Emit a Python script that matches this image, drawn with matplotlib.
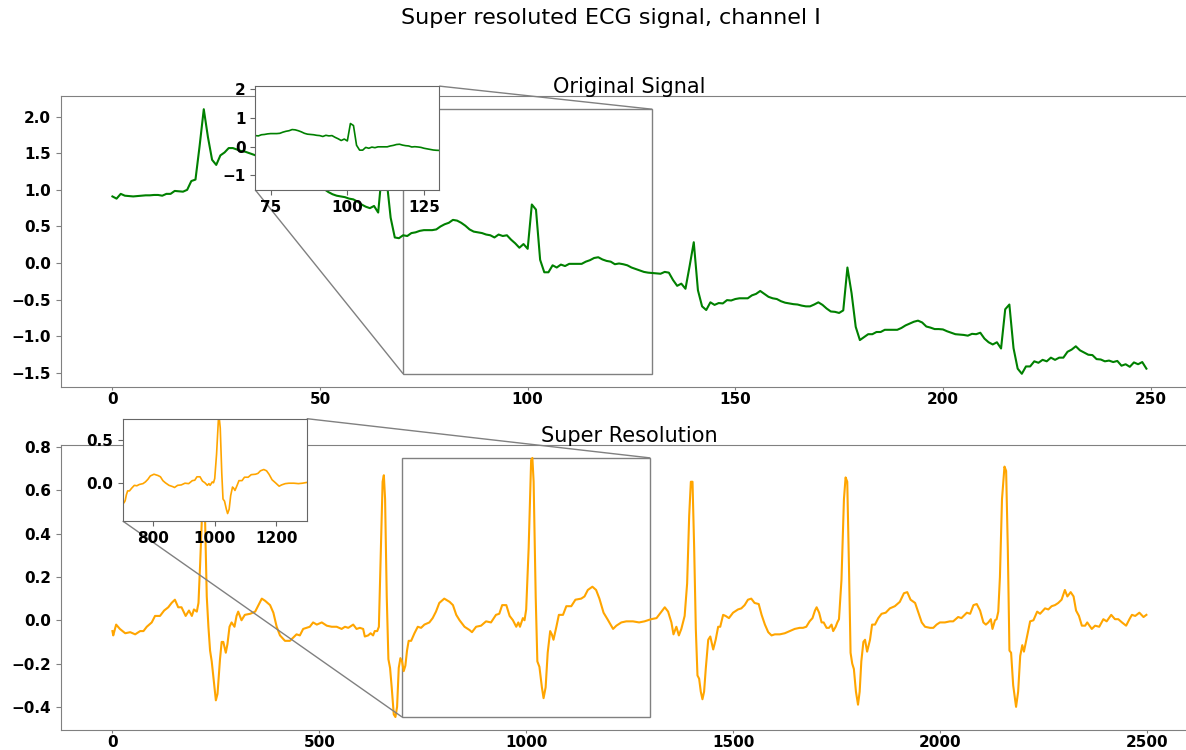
import matplotlib.pyplot as plt
from mpl_toolkits.axes_grid1.inset_locator import mark_inset

# Original ECG (250 samples)
orig = [
    0.91, 0.88, 0.945, 0.92, 0.915, 0.91, 0.915, 0.92, 0.925, 0.925,
    0.93, 0.93, 0.92, 0.945, 0.945, 0.985, 0.98, 0.975, 1.0, 1.12,
    1.14, 1.6, 2.1, 1.72, 1.41, 1.34, 1.47, 1.51, 1.57, 1.57,
    1.55, 1.53, 1.52, 1.50, 1.48, 1.46, 1.45, 1.43, 1.41, 1.38,
    1.36, 1.33, 1.30, 1.27, 1.25, 1.22, 1.18, 1.15, 1.12, 1.08,
    1.05, 1.01, 0.97, 0.94, 0.92, 0.91, 0.90, 0.88, 0.87, 0.84,
    0.80, 0.77, 0.75, 0.78, 0.69, 1.30, 1.15, 0.62, 0.35, 0.34,
    0.38, 0.37, 0.41, 0.42, 0.44, 0.45, 0.45, 0.45, 0.46, 0.50,
    0.53, 0.55, 0.59, 0.58, 0.55, 0.51, 0.46, 0.43, 0.42, 0.41,
    0.39, 0.38, 0.35, 0.39, 0.37, 0.38, 0.32, 0.27, 0.21, 0.26,
    0.195, 0.80, 0.73, 0.045, -0.125, -0.125, -0.03, -0.06, -0.02, -0.04,
    -0.01, -0.01, -0.01, -0.01, 0.02, 0.04, 0.07, 0.08, 0.05, 0.03,
    0.02, -0.015, -0.005, -0.015, -0.03, -0.06, -0.08, -0.10, -0.12, -0.13,
    -0.135, -0.14, -0.145, -0.12, -0.13, -0.23, -0.31, -0.28, -0.35, -0.04,
    0.285, -0.37, -0.59, -0.64, -0.535, -0.57, -0.545, -0.55, -0.505, -0.51,
    -0.49, -0.48, -0.48, -0.48, -0.44, -0.42, -0.38, -0.42, -0.46, -0.48,
    -0.49, -0.52, -0.54, -0.55, -0.56, -0.565, -0.58, -0.59, -0.59, -0.565,
    -0.535, -0.57, -0.62, -0.66, -0.665, -0.68, -0.645, -0.06, -0.41, -0.87,
    -1.05, -1.01, -0.97, -0.97, -0.94, -0.94, -0.91, -0.91, -0.91, -0.91,
    -0.885, -0.85, -0.825, -0.80, -0.785, -0.81, -0.865, -0.88, -0.90, -0.90,
    -0.905, -0.93, -0.95, -0.97, -0.975, -0.98, -0.99, -0.965, -0.97, -0.95,
    -1.03, -1.08, -1.11, -1.08, -1.165, -0.63, -0.565, -1.16, -1.44, -1.51,
    -1.41, -1.41, -1.34, -1.36, -1.32, -1.34, -1.29, -1.32, -1.29, -1.29,
    -1.21, -1.18, -1.135, -1.19, -1.22, -1.25, -1.255, -1.31, -1.315, -1.34,
    -1.33, -1.35, -1.335, -1.40, -1.38, -1.415, -1.355, -1.38, -1.35, -1.44,
]

# Super resolution output (2500 samples), read at the sample positions below
sr_x = [
    0, 2, 9, 18, 31, 43, 55, 67, 75, 83, 95, 103, 115, 125, 135, 143, 151, 159,
    167, 177, 185, 192, 197, 204, 208, 212, 216, 220, 224, 228, 232, 236, 240,
    246, 250, 254, 260, 264, 268, 274, 278, 283, 288, 295, 300, 304, 312, 320,
    333, 345, 353, 361, 369, 381, 389, 397, 405, 417, 429, 437, 445, 453, 461,
    469, 477, 485, 494, 506, 518, 530, 542, 554, 562, 570, 582, 590, 598, 606,
    610, 618, 624, 630, 634, 640, 644, 648, 653, 656, 659, 663, 667, 671, 675,
    680, 684, 688, 692, 696, 700, 704, 708, 712, 716, 722, 730, 738, 746, 754,
    766, 774, 782, 790, 802, 815, 823, 831, 839, 851, 863, 869, 879, 891, 903,
    915, 927, 935, 942, 952, 960, 968, 976, 981, 985, 992, 996, 1000, 1006,
    1012, 1015, 1018, 1023, 1027, 1032, 1038, 1042, 1047, 1052, 1058, 1062,
    1066, 1073, 1079, 1089, 1097, 1109, 1119, 1133, 1141, 1149, 1160, 1169,
    1177, 1187, 1198, 1210, 1218, 1230, 1242, 1258, 1273, 1286, 1302, 1315,
    1327, 1335, 1343, 1351, 1356, 1363, 1369, 1375, 1379, 1383, 1389, 1394,
    1398, 1402, 1406, 1410, 1414, 1418, 1422, 1426, 1430, 1434, 1440, 1445,
    1452, 1458, 1464, 1469, 1476, 1482, 1490, 1500, 1512, 1520, 1528, 1536,
    1544, 1552, 1562, 1569, 1577, 1585, 1593, 1601, 1613, 1625, 1637, 1649,
    1661, 1669, 1677, 1685, 1692, 1698, 1702, 1708, 1714, 1719, 1726, 1732,
    1738, 1742, 1748, 1752, 1756, 1762, 1768, 1772, 1776, 1780, 1784, 1788,
    1792, 1797, 1802, 1806, 1810, 1815, 1819, 1824, 1831, 1836, 1843, 1851,
    1859, 1869, 1879, 1891, 1903, 1913, 1921, 1929, 1940, 1948, 1956, 1964,
    1976, 1984, 1992, 2000, 2012, 2024, 2032, 2044, 2052, 2065, 2073, 2081,
    2089, 2097, 2105, 2111, 2117, 2123, 2127, 2133, 2137, 2141, 2145, 2150,
    2156, 2160, 2164, 2168, 2172, 2177, 2184, 2189, 2194, 2199, 2203, 2210,
    2218, 2226, 2235, 2242, 2254, 2262, 2270, 2278, 2286, 2294, 2302, 2308,
    2316, 2323, 2329, 2336, 2343, 2351, 2356, 2367, 2375, 2385, 2395, 2403,
    2414, 2423, 2431, 2440, 2450, 2458, 2464, 2472, 2482, 2492, 2499,
]
sr_y = [
    -0.05, -0.07, -0.02, -0.04, -0.06, -0.055, -0.065, -0.05, -0.05, -0.03, -0.01, 0.02, 0.02, 0.045, 0.06, 0.08, 0.095, 0.06,
    0.06, 0.02, 0.045, 0.02, 0.05, 0.04, 0.08, 0.26, 0.46, 0.70, 0.46, 0.11, -0.03, -0.14, -0.19,
    -0.30, -0.37, -0.34, -0.18, -0.10, -0.10, -0.15, -0.11, -0.03, -0.01, -0.03, 0.02, 0.04, 0.0, 0.025,
    0.03, 0.04, 0.07, 0.10, 0.09, 0.07, 0.035, -0.03, -0.07, -0.095, -0.095, -0.08, -0.065, -0.07, -0.04,
    -0.035, -0.03, -0.01, -0.02, -0.01, -0.025, -0.03, -0.03, -0.04, -0.03, -0.035, -0.02, -0.04, -0.035, -0.04,
    -0.075, -0.07, -0.06, -0.07, -0.05, -0.05, -0.03, 0.26, 0.64, 0.67, 0.56, 0.11, -0.18, -0.22, -0.31,
    -0.435, -0.447, -0.40, -0.22, -0.175, -0.19, -0.235, -0.21, -0.14, -0.095, -0.095, -0.06, -0.03, -0.035, -0.02,
    -0.01, 0.01, 0.04, 0.08, 0.10, 0.085, 0.07, 0.025, 0.0, -0.03, -0.045, -0.055, -0.03, -0.025, -0.005,
    -0.01, 0.025, 0.03, 0.07, 0.07, 0.02, 0.0, -0.03, -0.01, -0.03, 0.01, 0.0, 0.05, 0.335,
    0.74, 0.75, 0.64, 0.11, -0.19, -0.215, -0.31, -0.36, -0.31, -0.15, -0.05, -0.065,
    -0.09, -0.03, 0.025, 0.025, 0.065, 0.065, 0.095, 0.10, 0.11, 0.14, 0.155, 0.14,
    0.10, 0.035, 0.0, -0.04, -0.025, -0.01, -0.005, -0.005, -0.01, -0.005, 0.005, 0.01,
    0.04, 0.06, 0.04, -0.01, -0.065, -0.03, -0.07, -0.04, -0.01, 0.02, 0.17, 0.485,
    0.64, 0.64, 0.335, -0.04, -0.255, -0.27, -0.33, -0.365, -0.33, -0.225, -0.09, -0.075,
    -0.135, -0.09, -0.03, -0.03, 0.025, 0.02, 0.01, 0.035, 0.05, 0.055, 0.07, 0.095,
    0.10, 0.08, 0.075, 0.025, -0.02, -0.055, -0.07, -0.065, -0.065, -0.06, -0.05, -0.04,
    -0.035, -0.035, -0.03, -0.005, 0.01, 0.045, 0.06, 0.035, -0.01, -0.01, -0.035, -0.035,
    -0.02, -0.05, -0.03, -0.01, 0.005, 0.185, 0.56, 0.66, 0.64, 0.26, -0.15, -0.20,
    -0.225, -0.33, -0.39, -0.33, -0.19, -0.10, -0.09, -0.145, -0.09, -0.02, -0.02, 0.01,
    0.03, 0.035, 0.055, 0.065, 0.085, 0.125, 0.13, 0.095, 0.08, 0.035, -0.01, -0.03,
    -0.035, -0.035, -0.02, -0.01, -0.01, -0.005, -0.005, 0.015, 0.01, 0.035, 0.03, 0.07,
    0.075, 0.045, -0.01, -0.02, -0.01, 0.005, -0.04, 0.0, 0.005, 0.04, 0.20, 0.56,
    0.71, 0.69, 0.335, -0.14, -0.15, -0.30, -0.40, -0.33, -0.165, -0.115, -0.145, -0.08,
    -0.005, 0.0, 0.04, 0.03, 0.055, 0.05, 0.065, 0.07, 0.08, 0.095, 0.14, 0.11,
    0.13, 0.11, 0.045, 0.02, -0.025, -0.025, -0.01, -0.04, -0.025, -0.03, 0.005, -0.005,
    0.025, 0.005, 0.005, -0.01, -0.025, 0.005, 0.025, 0.02, 0.035, 0.015, 0.025,
]

orig_x = list(range(len(orig)))


def style(a, spine_color='0.5', main=True):
    for s in a.spines.values():
        s.set_color(spine_color)
    a.tick_params(colors=spine_color, labelcolor='black')
    if main:
        # short ticks so the bottom labels stay inside the figure
        a.tick_params(axis='x', length=2.5, pad=1)
    for lab in a.get_xticklabels() + a.get_yticklabels():
        lab.set_fontsize(11)
        lab.set_fontweight('bold')


fig = plt.figure(figsize=(11.86, 7.5), dpi=100)
fig.suptitle('Super resoluted ECG signal, channel I', x=0.515, y=0.976,
             va='center', fontsize=16)

# top: original signal
ax1 = fig.add_axes([0.0512, 0.484, 0.959, 0.388])
ax1.plot(orig_x, orig, color='green', linewidth=1.5)
ax1.set_title('Original Signal', fontsize=15, y=1.0, pad=2)
ax1.set_xticks([0, 50, 100, 150, 200, 250])
ax1.set_yticks([-1.5, -1.0, -0.5, 0.0, 0.5, 1.0, 1.5, 2.0])
style(ax1)

axins1 = ax1.inset_axes([0.1711, 0.677, 0.1618, 0.357])
axins1.plot(orig_x, orig, color='green', linewidth=1.2)
axins1.set_xlim(70, 130)
axins1.set_ylim(min(orig), max(orig))
axins1.set_xticks([75, 100, 125])
axins1.set_yticks([-1, 0, 1, 2])
style(axins1, '0.4', main=False)
mark_inset(ax1, axins1, loc1=1, loc2=3, fc='none', ec='0.5')

# bottom: super resolution
ax2 = fig.add_axes([0.0512, 0.0267, 0.959, 0.38])
ax2.plot(sr_x, sr_y, color='orange', linewidth=1.5)
ax2.set_title('Super Resolution', fontsize=15, y=1.0, pad=2)
ax2.set_xticks([0, 500, 1000, 1500, 2000, 2500])
ax2.set_yticks([-0.4, -0.2, 0.0, 0.2, 0.4, 0.6, 0.8])
style(ax2)

axins2 = ax2.inset_axes([0.0545, 0.7333, 0.1618, 0.359])
axins2.plot(sr_x, sr_y, color='orange', linewidth=1.2)
axins2.set_xlim(700, 1300)
axins2.set_ylim(min(sr_y), max(sr_y))
axins2.set_xticks([800, 1000, 1200])
axins2.set_yticks([0.0, 0.5])
style(axins2, '0.4', main=False)
mark_inset(ax2, axins2, loc1=1, loc2=3, fc='none', ec='0.5')

fig.savefig('out.png', dpi=100)
